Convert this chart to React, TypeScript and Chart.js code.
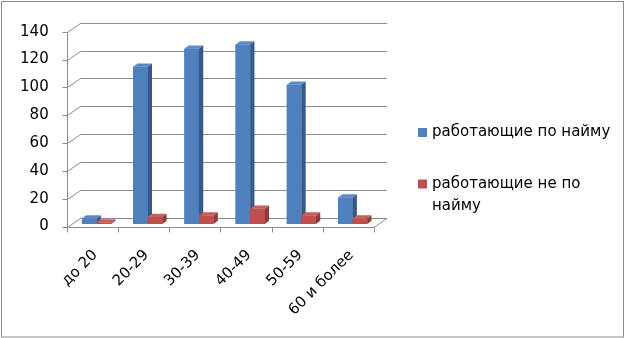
import React, { useEffect, useRef } from 'react';
import { Chart, registerables } from 'chart.js';

Chart.register(...registerables);

// ---- data ----
const categories = ['до 20', '20-29', '30-39', '40-49', '50-59', '60 и более'];
const hiredValues = [4, 113, 126, 129, 100, 19];
const selfEmployedValues = [1, 5, 6, 11, 6, 4];
const seriesNames = ['работающие по найму', 'работающие не по найму'];
const legendLines = [['работающие по найму'], ['работающие не по', 'найму']];
const yTickValues = [0, 20, 40, 60, 80, 100, 120, 140];

// ---- styling ----
const FONT_FAMILY = '"DejaVu Sans", sans-serif';
const FONT_SIZE = 15;
const WALL_DX = 13;
const WALL_DY = 9;
const BAR_SHIFT_X = 4.2;
const BAR_SHIFT_Y = 2.5;
const SIDE_DX = 4.3;
const SIDE_DY = 3.3;
const GRID_COLOR = '#8C8C8C';
const faceColors = [
  { front: '#4F81BD', top: '#5B8BC7', side: '#37598A' },
  { front: '#C0504D', top: '#C95D5A', side: '#8E3B39' },
];

const excel3d = {
  id: 'excel3d',
  beforeDraw(chart: any) {
    const { ctx, chartArea: a, scales } = chart;
    const x = scales.x;
    const y = scales.y;
    ctx.save();
    ctx.fillStyle = '#ffffff';
    ctx.fillRect(0, 0, chart.width, chart.height);
    ctx.strokeStyle = '#8A8A8A';
    ctx.lineWidth = 1;
    ctx.strokeRect(1.5, 1.5, chart.width - 3, chart.height - 2.5);

    ctx.strokeStyle = GRID_COLOR;
    ctx.lineWidth = 1;
    const left = Math.round(a.left) + 0.5;
    const right = a.right;
    ctx.beginPath();
    for (const v of yTickValues) {
      const py = Math.round(y.getPixelForValue(v)) + 0.5;
      ctx.moveTo(left - 5, py);
      ctx.lineTo(left, py);
      ctx.lineTo(left + WALL_DX, py - WALL_DY);
      ctx.lineTo(right + WALL_DX, py - WALL_DY);
    }
    const y0 = Math.round(y.getPixelForValue(0)) + 0.5;
    const yTop = Math.round(y.getPixelForValue(yTickValues[yTickValues.length - 1])) + 0.5;
    ctx.moveTo(left, yTop);
    ctx.lineTo(left, y0 + 5);
    ctx.moveTo(left, y0);
    ctx.lineTo(right, y0);
    ctx.lineTo(right + WALL_DX, y0 - WALL_DY);
    for (let i = 1; i <= categories.length; i++) {
      const px = Math.round(x.getPixelForValue(i - 0.5)) + 0.5;
      ctx.moveTo(px, y0);
      ctx.lineTo(px, y0 + 5);
    }
    ctx.stroke();
    ctx.restore();
  },
  beforeDatasetsDraw(chart: any) {
    chart.ctx.save();
    chart.ctx.translate(BAR_SHIFT_X, -BAR_SHIFT_Y);
  },
  afterDatasetsDraw(chart: any) {
    const { ctx } = chart;
    const n = chart.data.datasets.length;
    for (let i = 0; i < categories.length; i++) {
      for (let d = 0; d < n; d++) {
        const meta = chart.getDatasetMeta(d);
        const el = meta.data[i];
        if (!el) continue;
        const p = el.getProps(['x', 'y', 'base', 'width'], true);
        const l = p.x - p.width / 2;
        const r = p.x + p.width / 2;
        const t = p.y;
        const b = p.base;
        const c = faceColors[d];
        ctx.fillStyle = c.front;
        ctx.fillRect(l, t, r - l, b - t);
        ctx.fillStyle = c.top;
        ctx.beginPath();
        ctx.moveTo(l, t);
        ctx.lineTo(l + SIDE_DX, t - SIDE_DY);
        ctx.lineTo(r + SIDE_DX, t - SIDE_DY);
        ctx.lineTo(r, t);
        ctx.closePath();
        ctx.fill();
        ctx.fillStyle = c.side;
        ctx.beginPath();
        ctx.moveTo(r, t);
        ctx.lineTo(r + SIDE_DX, t - SIDE_DY);
        ctx.lineTo(r + SIDE_DX, b - SIDE_DY);
        ctx.lineTo(r, b);
        ctx.closePath();
        ctx.fill();
      }
    }
    ctx.restore();
  },
  afterDraw(chart: any) {
    const { ctx } = chart;
    ctx.save();
    ctx.font = `${FONT_SIZE}px ${FONT_FAMILY}`;
    ctx.textBaseline = 'middle';
    ctx.textAlign = 'left';
    const boxX = 418;
    const textX = 432;
    const itemTops = [128, 179.5];
    const lineH = 22;
    legendLines.forEach((lines, idx) => {
      const top = itemTops[idx];
      ctx.fillStyle = faceColors[idx].front;
      ctx.fillRect(boxX, top, 9, 9);
      ctx.fillStyle = '#000000';
      lines.forEach((line, k) => {
        ctx.fillText(line, textX, top + 4.5 + k * lineH);
      });
    });
    ctx.restore();
  },
};

export default function App() {
  const ref = useRef<HTMLCanvasElement | null>(null);
  useEffect(() => {
    if (!ref.current) return;
    const font = { family: FONT_FAMILY, size: FONT_SIZE };
    const chart = new Chart(ref.current, {
      type: 'bar',
      data: {
        labels: categories,
        datasets: [
          { label: seriesNames[0], data: hiredValues, backgroundColor: faceColors[0].front, barPercentage: 1, categoryPercentage: 0.57 },
          { label: seriesNames[1], data: selfEmployedValues, backgroundColor: faceColors[1].front, barPercentage: 1, categoryPercentage: 0.57 },
        ],
      },
      options: {
        responsive: false,
        animation: false,
        events: [],
        layout: { padding: { top: 31.7, right: 251, left: 0, bottom: 0 } },
        plugins: { legend: { display: false }, tooltip: { enabled: false } },
        scales: {
          x: {
            grid: { display: false, drawTicks: false },
            border: { display: false },
            ticks: { font, color: '#000000', minRotation: 45, maxRotation: 45, padding: 20, labelOffset: 3, autoSkip: false },
            afterFit(s: any) { s.height = 111.5; },
          },
          y: {
            min: 0,
            max: 140,
            grid: { display: false, drawTicks: false },
            border: { display: false },
            ticks: { font, color: '#000000', stepSize: 20, padding: 18 },
            afterFit(s: any) { s.width = 66.7; },
          },
        },
      },
      plugins: [excel3d],
    } as any);
    return () => chart.destroy();
  }, []);
  return (
    <div style={{ position: 'absolute', left: 0, top: 0, width: 625, height: 338 }}>
      <canvas ref={ref} width={625} height={338} style={{ display: 'block' }} />
    </div>
  );
}
